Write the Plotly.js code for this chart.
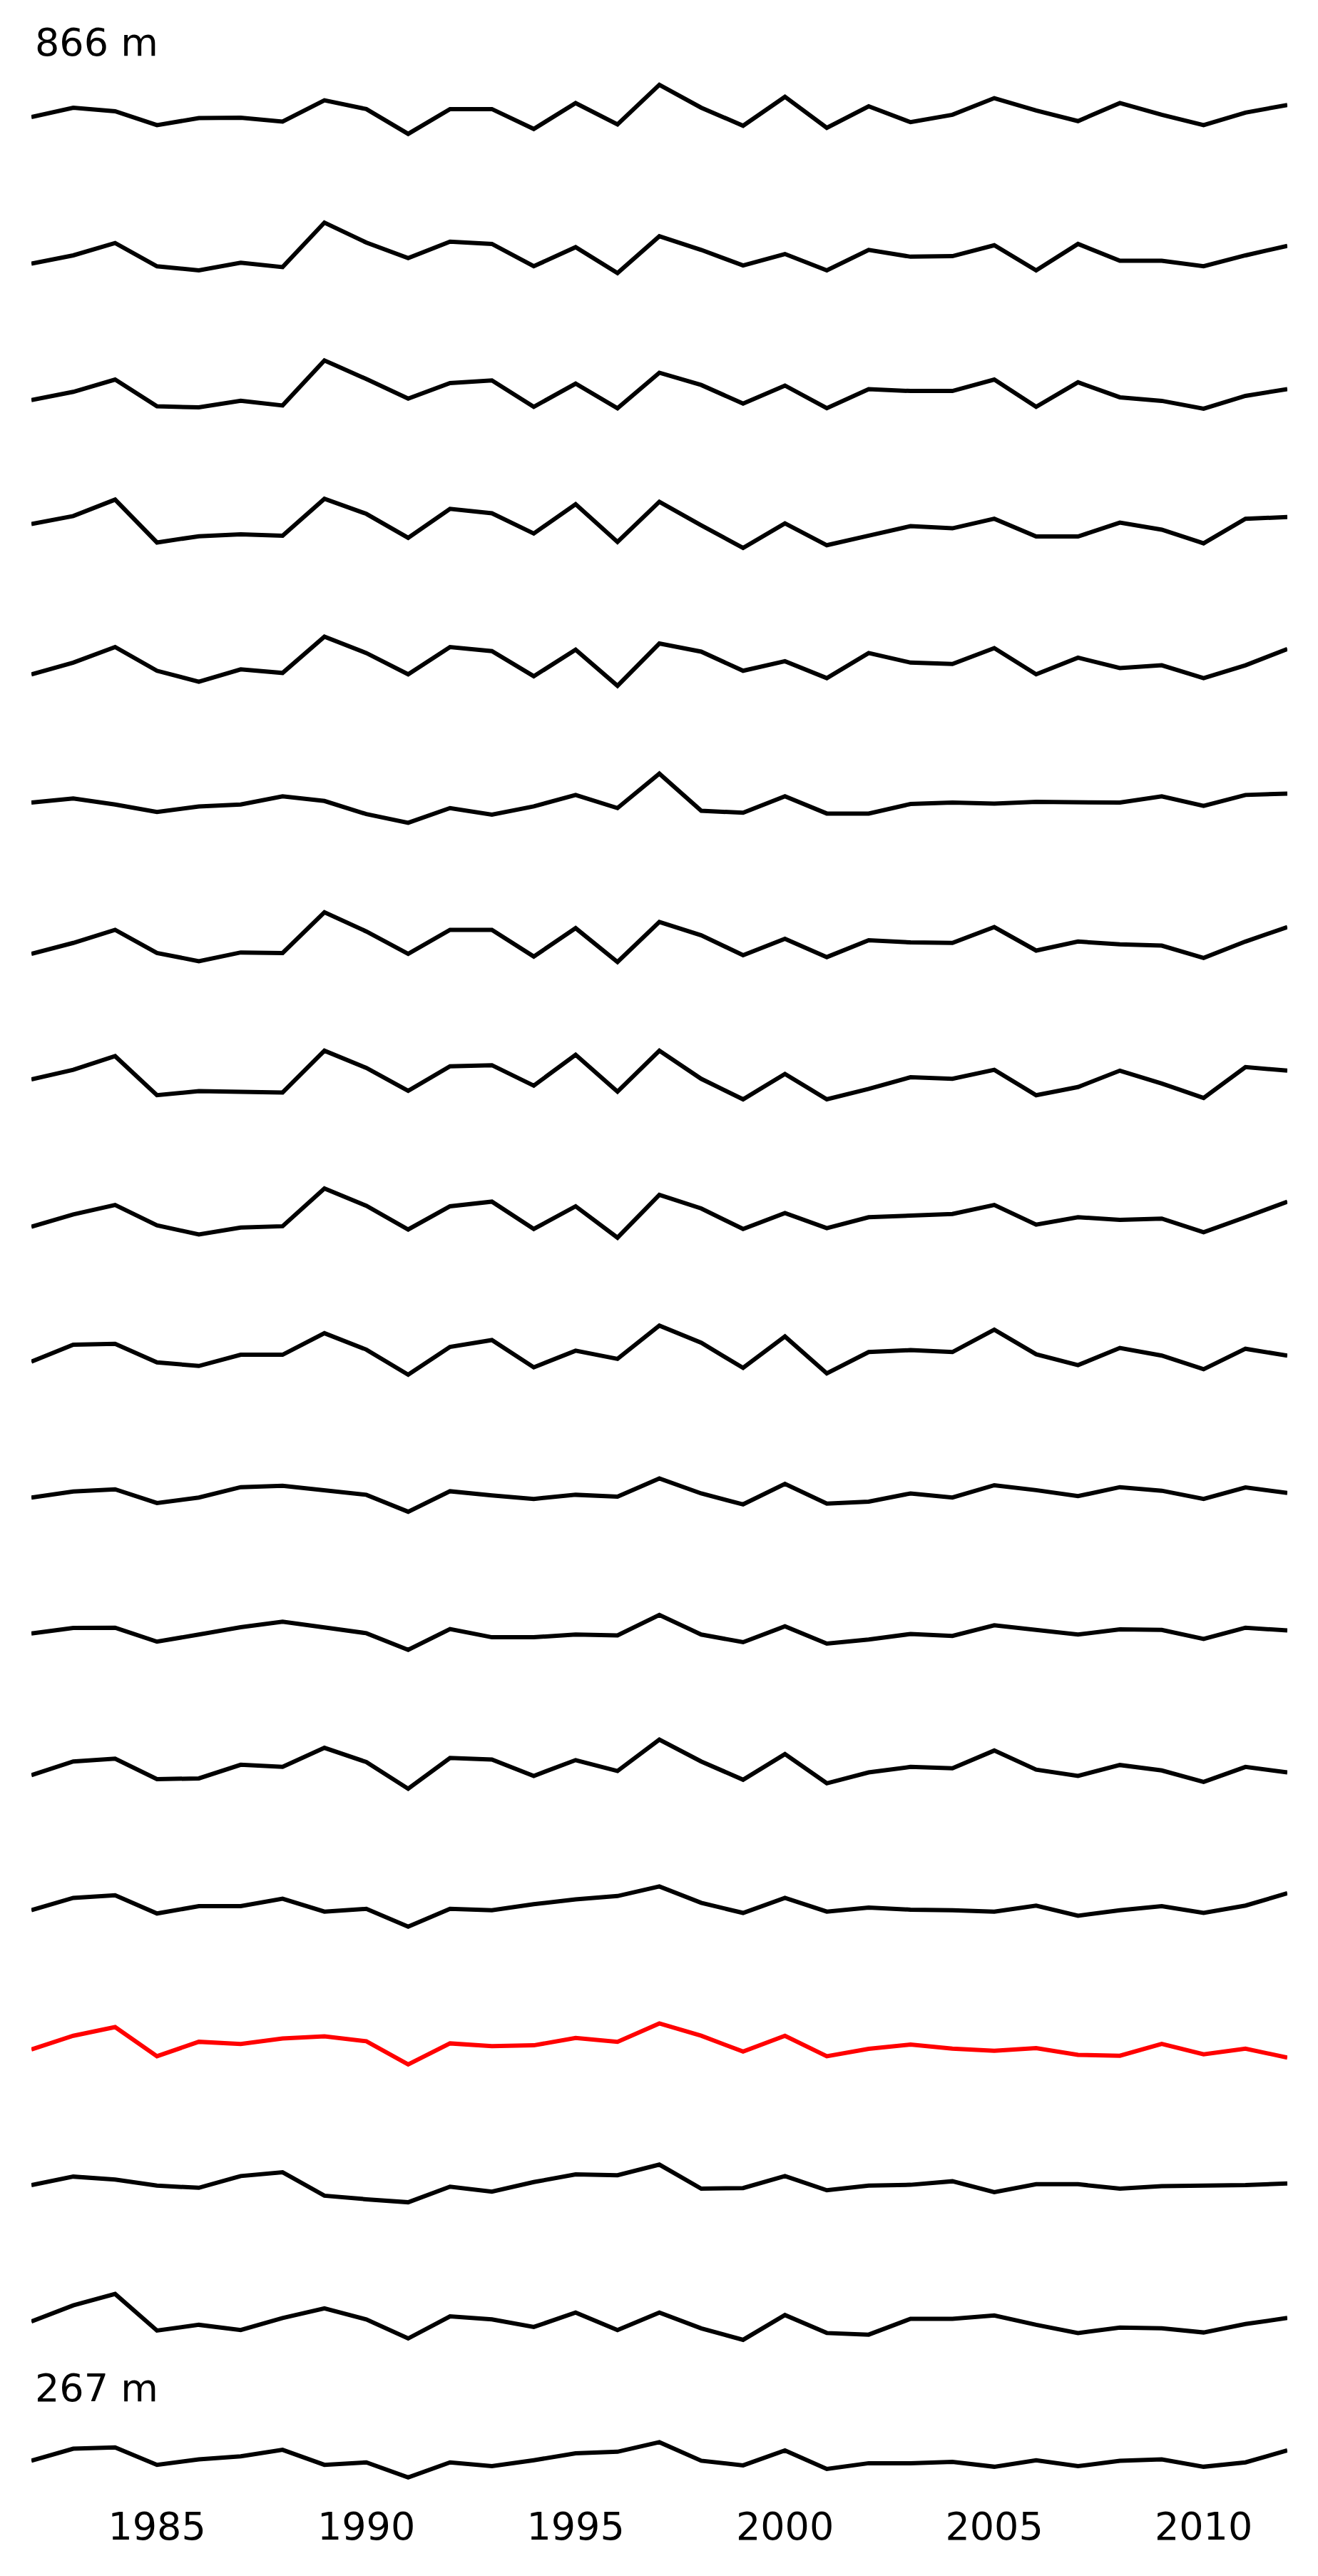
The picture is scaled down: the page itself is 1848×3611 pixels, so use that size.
<!DOCTYPE html>
<html><head><meta charset="utf-8">
<script src="https://cdn.plot.ly/plotly-3.0.1.min.js"></script>
<style>html,body{margin:0;padding:0;background:#fff}</style>
</head><body><div id="chart" style="width:1848px;height:3611px"></div>
<script>
const years = [1982,1983,1984,1985,1986,1987,1988,1989,1990,1991,1992,1993,1994,1995,1996,1997,1998,1999,2000,2001,2002,2003,2004,2005,2006,2007,2008,2009,2010,2011,2012];
const tickYears = [1985,1990,1995,2000,2005,2010];
const topLabel = "866 m";
const bottomLabel = "267 m";

const s01 = [-0.13,0.21,0.08,-0.43,-0.17,-0.16,-0.30,0.48,0.16,-0.75,0.16,0.16,-0.57,0.38,-0.40,1.05,0.21,-0.45,0.61,-0.53,0.26,-0.32,-0.05,0.56,0.11,-0.28,0.38,-0.05,-0.43,0.03,0.31];
const s02 = [-0.44,-0.14,0.31,-0.54,-0.69,-0.41,-0.57,1.06,0.33,-0.24,0.36,0.28,-0.54,0.16,-0.79,0.56,0.06,-0.51,-0.09,-0.69,0.06,-0.19,-0.17,0.23,-0.69,0.28,-0.34,-0.34,-0.54,-0.14,0.21];
const s03 = [-0.38,-0.08,0.37,-0.61,-0.65,-0.41,-0.58,1.07,0.39,-0.33,0.24,0.34,-0.63,0.22,-0.68,0.62,0.17,-0.51,0.15,-0.68,0.02,-0.05,-0.05,0.37,-0.63,0.27,-0.28,-0.41,-0.70,-0.23,0.02];
const s04 = [0.14,0.43,1.03,-0.54,-0.31,-0.24,-0.29,1.06,0.51,-0.37,0.69,0.53,-0.21,0.86,-0.52,0.95,0.09,-0.74,0.16,-0.64,-0.29,0.06,-0.02,0.33,-0.32,-0.32,0.19,-0.07,-0.57,0.33,0.39];
const s05 = [-0.31,0.12,0.69,-0.18,-0.58,-0.13,-0.26,1.07,0.47,-0.31,0.69,0.54,-0.38,0.59,-0.73,0.82,0.52,-0.18,0.17,-0.45,0.47,0.12,0.07,0.65,-0.31,0.30,-0.08,0.02,-0.45,0.02,0.62];
const s06 = [0.05,0.20,-0.02,-0.29,-0.09,-0.02,0.28,0.11,-0.37,-0.69,-0.15,-0.39,-0.09,0.33,-0.15,1.11,-0.25,-0.32,0.28,-0.35,-0.35,0.00,0.05,0.01,0.08,0.08,0.05,0.28,-0.07,0.33,0.38];
const s07 = [-0.43,-0.03,0.45,-0.40,-0.70,-0.38,-0.40,1.09,0.39,-0.43,0.45,0.45,-0.53,0.51,-0.73,0.74,0.25,-0.48,0.12,-0.55,0.07,-0.01,-0.03,0.55,-0.31,0.02,-0.08,-0.13,-0.58,0.02,0.55];
const s08 = [0.03,0.38,0.88,-0.55,-0.40,-0.44,-0.45,1.08,0.45,-0.39,0.51,0.55,-0.20,0.93,-0.42,1.08,0.05,-0.70,0.23,-0.70,-0.32,0.11,0.05,0.38,-0.55,-0.25,0.35,-0.12,-0.65,0.48,0.35];
const s09 = [-0.31,0.14,0.49,-0.26,-0.59,-0.34,-0.29,1.09,0.46,-0.41,0.44,0.61,-0.39,0.44,-0.71,0.86,0.36,-0.39,0.19,-0.36,0.04,0.09,0.16,0.49,-0.23,0.04,-0.06,-0.01,-0.51,0.04,0.61];
const s10 = [-0.19,0.43,0.46,-0.22,-0.35,0.06,0.06,0.85,0.25,-0.67,0.35,0.60,-0.40,0.21,-0.09,1.13,0.50,-0.42,0.73,-0.62,0.16,0.23,0.16,0.98,0.08,-0.32,0.31,0.03,-0.47,0.28,0.03];
const s11 = [-0.11,0.11,0.19,-0.31,-0.11,0.27,0.32,0.14,-0.01,-0.63,0.12,-0.03,-0.16,-0.01,-0.08,0.59,0.04,-0.36,0.39,-0.33,-0.26,0.04,-0.11,0.34,0.16,-0.06,0.27,0.14,-0.16,0.26,0.06];
const s12 = [-0.03,0.17,0.18,-0.33,-0.07,0.20,0.40,0.20,-0.02,-0.63,0.13,-0.17,-0.17,-0.07,-0.10,0.65,-0.07,-0.35,0.23,-0.40,-0.25,-0.05,-0.12,0.27,0.10,-0.07,0.12,0.10,-0.23,0.18,0.08];
const s13 = [-0.16,0.34,0.44,-0.31,-0.28,0.22,0.14,0.84,0.32,-0.66,0.47,0.41,-0.19,0.39,-0.01,1.14,0.34,-0.33,0.61,-0.46,-0.06,0.14,0.09,0.74,0.04,-0.19,0.21,0.01,-0.41,0.14,-0.06];
const s14 = [-0.05,0.40,0.50,-0.17,0.10,0.10,0.37,-0.10,0.00,-0.65,0.00,-0.05,0.17,0.35,0.47,0.82,0.22,-0.15,0.40,-0.10,0.05,-0.03,-0.05,-0.10,0.12,-0.25,-0.05,0.10,-0.15,0.12,0.57];
const s15 = [-0.09,0.41,0.73,-0.34,0.19,0.11,0.31,0.39,0.21,-0.64,0.13,0.03,0.06,0.33,0.19,0.86,0.41,-0.17,0.41,-0.34,-0.07,0.09,-0.06,-0.14,-0.04,-0.29,-0.32,0.11,-0.27,-0.06,-0.39];
const s16 = [0.00,0.31,0.20,-0.02,-0.10,0.33,0.47,-0.39,-0.52,-0.63,-0.06,-0.24,0.11,0.39,0.36,0.75,-0.13,-0.11,0.33,-0.19,-0.02,0.01,0.14,-0.26,0.03,0.03,-0.13,-0.04,-0.02,0.00,0.06];
const s17 = [0.06,0.65,1.07,-0.27,-0.06,-0.25,0.19,0.54,0.14,-0.56,0.25,0.14,-0.14,0.39,-0.25,0.39,-0.19,-0.61,0.30,-0.36,-0.42,0.16,0.16,0.28,-0.06,-0.36,-0.16,-0.19,-0.34,-0.03,0.19];
const s18 = [0.02,0.46,0.51,-0.13,0.07,0.18,0.42,-0.13,-0.04,-0.59,-0.04,-0.18,0.04,0.29,0.35,0.70,0.02,-0.15,0.40,-0.28,-0.07,-0.07,-0.02,-0.20,0.04,-0.18,0.02,0.07,-0.20,-0.04,0.40];

const allSeries = [s01,s02,s03,s04,s05,s06,s07,s08,s09,s10,s11,s12,s13,s14,s15,s16,s17,s18];
const highlightIndex = 14;

// layout geometry (pixels)
const W = 1848, H = 3611, ML = 44, MR = 43;
const firstRowCenter = 159, rowStep = 193.6, rowHalf = 55, pxPerUnit = 38.27;
const yHalfRange = rowHalf / pxPerUnit;
const xAxisPx = 3505;

const traces = [];
const layout = {
  width: W, height: H,
  margin: {l: ML, r: MR, t: 0, b: 0, pad: 0},
  paper_bgcolor: '#ffffff', plot_bgcolor: '#ffffff',
  showlegend: false,
  font: {family: 'DejaVu Sans, sans-serif', color: '#000'},
  xaxis: {
    range: [1982, 2012], anchor: 'free', position: 1 - xAxisPx / H, domain: [0, 1],
    side: 'bottom',
    tickmode: 'array', tickvals: tickYears, ticktext: tickYears.map(String),
    ticks: '', showgrid: false, zeroline: false, showline: false,
    tickfont: {family: 'DejaVu Sans, sans-serif', size: 54, color: '#000'}
  },
  annotations: []
};

allSeries.forEach((vals, i) => {
  const n = i + 1;
  const yname = n === 1 ? 'yaxis' : 'yaxis' + n;
  const c = firstRowCenter + rowStep * i;
  layout[yname] = {
    domain: [1 - (c + rowHalf) / H, 1 - (c - rowHalf) / H],
    range: [-yHalfRange, yHalfRange],
    visible: false, anchor: 'x', fixedrange: true
  };
  traces.push({
    x: years, y: vals, type: 'scatter', mode: 'lines',
    xaxis: 'x', yaxis: n === 1 ? 'y' : 'y' + n,
    line: {color: i === highlightIndex ? '#ff0000' : '#000000', width: 6},
    cliponaxis: false, hoverinfo: 'skip'
  });
});

layout.annotations.push({
  text: topLabel, xref: 'paper', yref: 'paper', x: 3 / (W - ML - MR), y: 1 - 60 / H,
  xanchor: 'left', yanchor: 'middle', showarrow: false,
  font: {family: 'DejaVu Sans, sans-serif', size: 54, color: '#000'}
});
layout.annotations.push({
  text: bottomLabel, xref: 'paper', yref: 'paper', x: 3 / (W - ML - MR), y: 1 - 3347 / H,
  xanchor: 'left', yanchor: 'middle', showarrow: false,
  font: {family: 'DejaVu Sans, sans-serif', size: 54, color: '#000'}
});

Plotly.newPlot('chart', traces, layout, {staticPlot: true, displayModeBar: false});
</script>
</body></html>
